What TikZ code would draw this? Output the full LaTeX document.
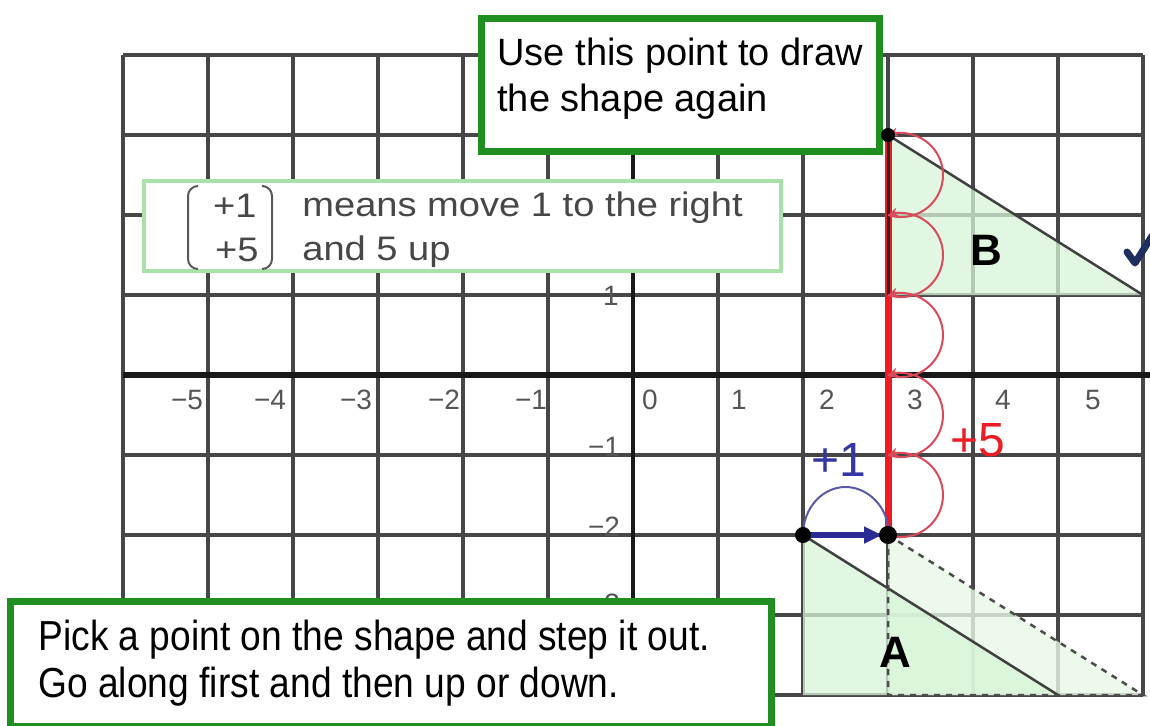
\documentclass[tikz,border=0pt]{standalone}
\usepackage{fontspec}
\setmainfont{Liberation Sans}
\newfontfamily\bottomfont[FakeStretch=0.885]{Liberation Sans}
\newfontfamily\midfont[FakeStretch=1.12]{Liberation Sans}
\usetikzlibrary{arrows.meta}
\definecolor{gridgray}{HTML}{474747}
\definecolor{darkgreen}{HTML}{1F8F1F}
\definecolor{lightgreenline}{HTML}{A8E2A8}
\definecolor{trifill}{HTML}{D8F5D8}
\definecolor{trifilltwo}{HTML}{E6F9E6}
\definecolor{redline}{HTML}{EE1C25}
\definecolor{redarc}{HTML}{D94A5A}
\definecolor{bluearrow}{HTML}{2B2B95}
\definecolor{bluearc}{HTML}{5A5AA8}
\definecolor{bluetext}{HTML}{3535A5}
\definecolor{labelgray}{HTML}{555555}
\definecolor{checkblue}{HTML}{1E2E5E}
\begin{document}
\begin{tikzpicture}[x=0.5pt,y=-0.5pt,
  gridline/.style={draw=gridgray, line width=1.6pt},
  axisline/.style={draw=black!90, line width=2.8pt},
  yaxisline/.style={draw=black!90, line width=2.2pt},
  hypo/.style={draw=black!75, line width=1.25pt},
  dashedge/.style={draw=black!70, line width=1.25pt, dash pattern=on 3pt off 3pt},
  darkbox/.style={rectangle, draw=darkgreen, line width=3.5pt, fill=white, inner sep=0pt},
  lightbox/.style={rectangle, draw=lightgreenline, line width=2pt, fill=white, inner sep=0pt},
  toptext/.style={inner sep=0pt, text=black, font=\fontsize{19pt}{22pt}\selectfont},
  midtext/.style={inner sep=0pt, text=black!72, font=\midfont\fontsize{17pt}{20pt}\selectfont},
  bottext/.style={inner sep=0pt, text=black, font=\bottomfont\fontsize{21pt}{24pt}\selectfont},
  axlabel/.style={inner sep=0pt, text=labelgray, font=\fontsize{14pt}{16pt}\selectfont},
  paren/.style={draw=black!65, line width=1pt, rounded corners=5pt},
  dot/.style={circle, fill=black, inner sep=0pt},
  redthick/.style={draw=redline, line width=3.5pt},
  blackedge/.style={draw=black!85, line width=1.5pt},
  redarcstyle/.style={draw=redarc, line width=1pt, -{Stealth[length=5pt,width=4.5pt]}},
  bluearcstyle/.style={draw=bluearc, line width=1pt, -{Stealth[length=4pt,width=4pt]}},
  bluethick/.style={draw=bluearrow, line width=3pt, -{Triangle[length=9pt,width=8pt]}, shorten >=3pt},
  bigbold/.style={inner sep=0pt, font=\bfseries\fontsize{22pt}{24pt}\selectfont},
  steplabel/.style={inner sep=0pt, font=\fontsize{24pt}{26pt}\selectfont}
]
\useasboundingbox (0,0) rectangle (1150,725);
\clip (0,0) rectangle (1150,725);
\fill[white] (0,0) rectangle (1150,725);

% ---------- grid in grid units ----------
\begin{scope}[shift={(633,375)}, x=42.5pt, y=40pt]
  \foreach \i in {-6,...,6} \draw[gridline] (\i,-4) -- (\i,4);
  \foreach \j in {-4,...,4} \draw[gridline] (-6,\j) -- (6,\j);
  \draw[axisline] (-6,0) -- (6.3,0);
  \draw[yaxisline] (0,-4) -- (0,4);
  % shapes
  \fill[trifilltwo, opacity=0.8] (3,-2) -- (3,-4) -- (6,-4) -- cycle;
  \fill[trifill, opacity=0.75] (2,-2) -- (2,-4) -- (5,-4) -- cycle;
  \fill[trifill, opacity=0.75] (3,3) -- (3,1) -- (6,1) -- cycle;
  \draw[hypo] (2,-2) -- (5,-4);
  \draw[hypo] (3,3) -- (6,1);
  \draw[dashedge] (3,-2) -- (6,-4) -- (3,-4) -- cycle;
\end{scope}

% ---------- axis labels ----------
\foreach \t/\x/\n in {−5/187/a, −4/270/b, −3/356/c, −2/444/d, −1/531/e, 0/650/f, 1/739/g, 2/827/h, 3/915/i, 4/1003/j, 5/1093/k}
  \node[axlabel] (xl\n) at (\x,400) {\t};
\node[axlabel] (yl1) at (611,296) {1};
\node[axlabel] (ylm1) at (604,447) {−1};
\node[axlabel] (ylm2) at (604,527) {−2};
\node[axlabel] (ylm3) at (604,604) {−3};

% ---------- boxes ----------
\node[darkbox, minimum width=199pt, minimum height=66.5pt] (topbox) at (680.5,85) {};
\node[toptext, anchor=base west] (toptextA) at (497,65) {Use this point to draw};
\node[toptext, anchor=base west] (toptextB) at (497,111) {the shape again};

\node[lightbox, minimum width=318.5pt, minimum height=45pt] (midbox) at (462.5,226) {};
\draw[paren] (198,186) -- (188,186) -- (188,269) -- (198,269);
\draw[paren] (262,186) -- (272,186) -- (272,269) -- (262,269);
\node[midtext, anchor=base east] (vecA) at (257,217) {+1};
\node[midtext, anchor=base east] (vecB) at (259,261) {+5};
\node[midtext, anchor=base west] (midtextA) at (302,216) {means move 1 to the right};
\node[midtext, anchor=base west] (midtextB) at (302,260) {and 5 up};

\node[darkbox, minimum width=380.5pt, minimum height=62.25pt] (botbox) at (391,663.75) {};
\node[bottext, anchor=base west] (bottextA) at (38,650) {Pick a point on the shape and step it out.};
\node[bottext, anchor=base west] (bottextB) at (38,697) {Go along first and then up or down.};

% ---------- translation steps ----------
\begin{scope}[shift={(633,375)}, x=42.5pt, y=40pt]
  \coordinate (cA) at (2,-2);
  \coordinate (cB) at (3,-2);
  \coordinate (cT) at (3,3);
  \coordinate (cE) at (3,1);
  \draw[redthick] (cB) -- (cT);
  \draw[blackedge] (cT) -- (cE);
  \foreach \k in {-2,...,2}
    \draw[redarcstyle] (3,\k) arc[start angle=-108, end angle=108, radius=21pt];
  \draw[bluearcstyle] (cA) arc[start angle=180, end angle=0, x radius=21.25pt, y radius=24pt];
  \draw[bluethick] (cA) -- (cB);
  \node[dot, minimum size=8pt] (pA) at (cA) {};
  \node[dot, minimum size=9pt] (pB) at (cB) {};
  \node[dot, minimum size=7pt] (pT) at (cT) {};
\end{scope}

\node[steplabel, text=bluetext] (plusone) at (839,460) {+1};
\node[steplabel, text=redline] (plusfive) at (978,440) {+5};
\node[bigbold] (labA) at (895,652) {A};
\node[bigbold] (labB) at (986,250) {B};

\draw[draw=checkblue, line width=3.5pt, line cap=round, line join=round]
  (1127,252) -- (1135,263) -- (1152,236);
\end{tikzpicture}
\end{document}
